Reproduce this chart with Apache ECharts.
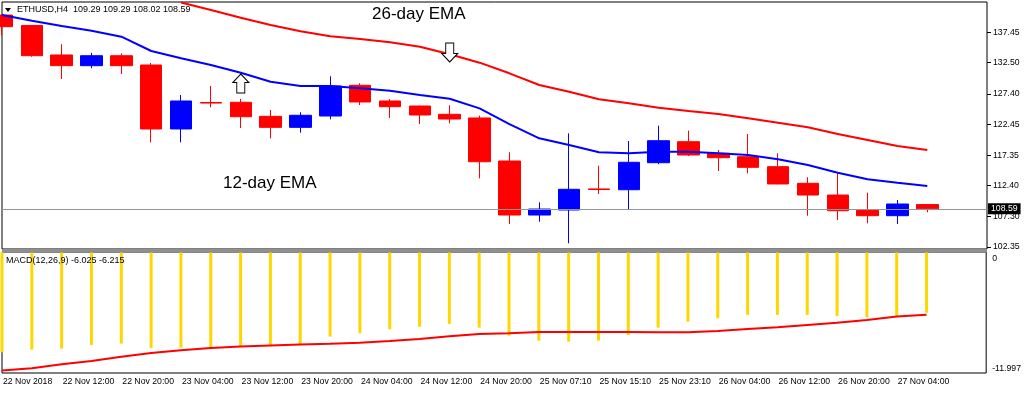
<!DOCTYPE html>
<html><head><meta charset="utf-8">
<script src="https://cdn.jsdelivr.net/npm/echarts@6/dist/echarts.min.js"></script>
<style>html,body{margin:0;padding:0;background:#fff}#c{width:1024px;height:394px}</style>
</head><body><div id="c"></div>
<script>
const times = ["22 Nov 2018","22 Nov 08:00","22 Nov 12:00","22 Nov 16:00","22 Nov 20:00","23 Nov 00:00","23 Nov 04:00","23 Nov 08:00",
  "23 Nov 12:00","23 Nov 16:00","23 Nov 20:00","24 Nov 00:00","24 Nov 04:00","24 Nov 08:00","24 Nov 12:00","24 Nov 16:00",
  "24 Nov 20:00","25 Nov 03:10","25 Nov 07:10","25 Nov 11:10","25 Nov 15:10","25 Nov 19:10","25 Nov 23:10","26 Nov 00:00",
  "26 Nov 04:00","26 Nov 08:00","26 Nov 12:00","26 Nov 16:00","26 Nov 20:00","27 Nov 00:00","27 Nov 04:00","27 Nov 08:00"];
const opens  = [140.3,138.6,133.77,132.02,133.65,132.13,121.66,126.0,126.03,123.73,121.93,123.78,128.81,126.24,125.42,124.06,
  123.46,116.42,107.58,108.4,111.85,111.72,116.14,119.58,117.68,117.12,115.49,112.77,110.85,108.35,107.47,109.29];
const closes = [138.4,133.65,132.02,133.65,132.02,121.66,126.24,125.9,123.67,121.93,123.9,128.69,126.08,125.31,123.95,123.29,
  116.3,107.58,108.56,111.79,111.75,116.21,119.74,117.4,116.96,115.39,112.66,110.85,108.28,107.47,109.38,108.59];
const lows   = [137.0,133.49,129.84,131.59,130.66,119.48,119.48,125.21,121.82,120.13,121.05,123.24,125.58,123.46,122.47,122.58,
  113.59,106.11,106.48,102.95,111.02,108.56,115.9,117.24,114.78,114.41,112.6,107.47,106.76,106.22,106.11,108.02];
const highs  = [140.4,138.6,135.52,134.14,134.05,132.46,127.22,128.69,126.57,124.77,124.39,130.28,129.14,126.57,125.5,125.53,
  123.83,117.84,109.66,120.95,115.65,119.69,122.2,121.38,118.22,120.84,117.68,113.75,114.41,111.23,110.04,109.29];
const ema12 = [140.31,139.38,138.51,137.74,136.76,134.42,133.23,132.13,130.87,129.4,128.69,128.69,128.32,127.93,127.22,126.61,
  125.04,122.47,120.13,119.04,117.84,117.68,117.94,117.94,117.68,117.4,116.7,115.76,114.5,113.42,112.87,112.33];
const ema26 = [null,null,null,null,null,null,142.36,141.13,139.87,138.68,137.65,136.83,136.39,135.85,135.13,133.88,
  132.51,130.77,128.86,127.76,126.52,125.86,125.14,124.6,124.11,123.41,122.69,121.94,120.84,119.86,118.87,118.22];
const macdMain = [-9.94,-9.68,-9.58,-9.22,-9.08,-9.51,-9.48,-9.45,-9.32,-9.28,-9.18,-8.39,-8.06,-7.66,-7.40,-7.14,
  -7.50,-8.29,-8.79,-8.89,-8.79,-8.23,-7.50,-6.91,-6.57,-6.24,-6.24,-6.24,-6.34,-6.47,-6.34,-6.025];
const macdSignal = [-11.76,-11.53,-11.13,-10.80,-10.38,-10.01,-9.74,-9.51,-9.38,-9.28,-9.18,-9.10,-8.99,-8.82,-8.62,-8.36,
  -8.13,-8.06,-7.93,-7.93,-7.93,-7.93,-7.95,-7.96,-7.83,-7.63,-7.46,-7.23,-7.01,-6.74,-6.40,-6.215];
const priceTicks = [102.35,107.30,112.40,117.35,122.45,127.40,132.50,137.45];
const macdTicks = [0,-11.997];
const lastPrice = 108.59;
const upArrow = {bar: 8, value: 129.1};
const downArrow = {bar: 15, value: 134.18};

const cats = times.concat(['','']);
const candles = opens.map((o,i)=>[o, closes[i], lows[i], highs[i]]);
const FONT = 'Liberation Sans, Arial, sans-serif';
const FS = 8.7;
const arrowPath = 'path://M8,0 L16,8.5 L12,8.5 L12,19 L4,19 L4,8.5 L0,8.5 Z';
const everyOther = (i) => i % 2 === 0 && i < times.length;

const chart = echarts.init(document.getElementById('c'), null, {renderer:'canvas'});
chart.setOption({
  animation: false,
  backgroundColor: '#fff',
  textStyle: {fontFamily: FONT},
  grid: [
    {left: 2, right: 37, top: 2, height: 247, show: true, borderColor: '#000', borderWidth: 1, backgroundColor: '#fff'},
    {left: 2, right: 37, top: 252, height: 121, show: true, borderColor: '#000', borderWidth: 1, backgroundColor: '#fff'}
  ],
  xAxis: [
    {type: 'category', gridIndex: 0, data: cats, boundaryGap: false,
      axisLine: {show: false}, axisTick: {show: false, interval: everyOther}, axisLabel: {show: false, interval: everyOther},
      splitLine: {show: false}, minorTick: {show: false}},
    {type: 'category', gridIndex: 1, data: cats, boundaryGap: false, position: 'bottom',
      axisLine: {show: false},
      axisTick: {show: true, interval: everyOther, length: 4, lineStyle: {color: '#000'}},
      axisLabel: {interval: everyOther, align: 'left', margin: 4, padding: [0,0,0,1], color: '#000', fontSize: FS, fontFamily: FONT},
      splitLine: {show: false}}
  ],
  yAxis: [
    {type: 'value', gridIndex: 0, position: 'right', min: 102.02, max: 142.44, scale: true,
      axisLine: {show: false}, splitLine: {show: false},
      axisTick: {show: true, length: 4, customValues: priceTicks, lineStyle: {color: '#000'}},
      axisLabel: {customValues: priceTicks, margin: 6, color: '#000', fontSize: FS, fontFamily: FONT,
        formatter: v => v.toFixed(2)}},
    {type: 'value', gridIndex: 1, position: 'right', min: -11.997, max: 0,
      axisLine: {show: false}, splitLine: {show: false}, axisTick: {show: false},
      axisLabel: {customValues: macdTicks, margin: 6, color: '#000', fontSize: FS, fontFamily: FONT,
        formatter: v => v === 0 ? '{t|0}' : '{b|' + v.toFixed(3) + '}',
        rich: {
          t: {padding: [13,0,0,0], fontSize: FS, fontFamily: FONT, color: '#000'},
          b: {padding: [0,0,9,0], fontSize: FS, fontFamily: FONT, color: '#000'}
        }}}
  ],
  graphic: [
    {type: 'rect', shape: {x: 2, y: 249, width: 985, height: 3.5}, style: {fill: '#8f8f8f'}, z: 100},
    {type: 'polygon', shape: {points: [[5,8],[11,8],[8,12]]}, style: {fill: '#000'}, z: 100},
    {type: 'text', x: 17, y: 10, style: {text: 'ETHUSD,H4  109.29 109.29 108.02 108.59', fill: '#000',
      font: '9px ' + FONT, textVerticalAlign: 'middle'}, z: 100},
    {type: 'text', x: 6, y: 261, style: {text: 'MACD(12,26,9) -6.025 -6.215', fill: '#000',
      font: '9px ' + FONT, textVerticalAlign: 'middle'}, z: 100},
    {type: 'text', x: 372, y: 14, style: {text: '26-day EMA', fill: '#000',
      font: '17px ' + FONT, textVerticalAlign: 'middle'}, z: 100},
    {type: 'text', x: 223, y: 183, style: {text: '12-day EMA', fill: '#000',
      font: '17px ' + FONT, textVerticalAlign: 'middle'}, z: 100}
  ],
  series: [
    {type: 'candlestick', xAxisIndex: 0, yAxisIndex: 0, data: candles, barWidth: 22, clip: true,
      itemStyle: {color: '#0000ff', color0: '#ff0000', borderColor: '#0000ff', borderColor0: '#ff0000', borderWidth: 1},
      emphasis: {disabled: true},
      markLine: {silent: true, symbol: 'none', animation: false,
        data: [{yAxis: lastPrice}],
        lineStyle: {color: '#8e9898', width: 1, type: 'solid'},
        label: {show: true, position: 'end', distance: 1, formatter: lastPrice.toFixed(2),
          backgroundColor: '#000', color: '#fff', padding: [1,3,1,3], fontSize: FS, fontFamily: FONT},
        emphasis: {disabled: true}},
      markPoint: {silent: true, animation: false,
        symbol: arrowPath, symbolSize: [16,19], label: {show: false},
        itemStyle: {color: '#fff', borderColor: '#000', borderWidth: 1},
        data: [
          {coord: [upArrow.bar, upArrow.value]},
          {coord: [downArrow.bar, downArrow.value], symbolRotate: 180}
        ]}},
    {type: 'line', xAxisIndex: 0, yAxisIndex: 0, data: ema12, showSymbol: false, clip: true,
      lineStyle: {color: '#0000ff', width: 2}, itemStyle: {color: '#0000ff'}, emphasis: {disabled: true}, z: 3},
    {type: 'line', xAxisIndex: 0, yAxisIndex: 0, data: ema26, showSymbol: false, clip: true, connectNulls: false,
      lineStyle: {color: '#ff0000', width: 2}, itemStyle: {color: '#ff0000'}, emphasis: {disabled: true}, z: 3},
    {type: 'bar', xAxisIndex: 1, yAxisIndex: 1, data: macdMain, barWidth: 3, clip: true,
      itemStyle: {color: '#ffd700'}, emphasis: {disabled: true}},
    {type: 'line', xAxisIndex: 1, yAxisIndex: 1, data: macdSignal, showSymbol: false, clip: true,
      lineStyle: {color: '#ff0000', width: 2}, itemStyle: {color: '#ff0000'}, emphasis: {disabled: true}, z: 3}
  ]
});
</script></body></html>
